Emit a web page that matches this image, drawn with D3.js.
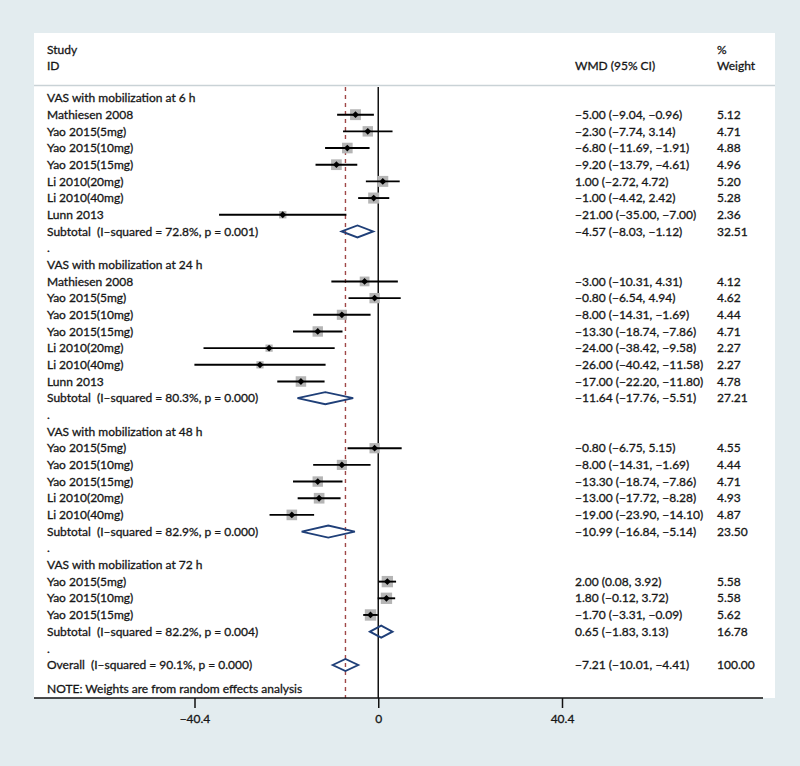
<!DOCTYPE html>
<html><head><meta charset="utf-8">
<script src="https://cdn.jsdelivr.net/npm/d3@7"></script>
<style>
html,body{margin:0;padding:0;background:#e3ecef;}
svg{display:block;}
text{font-family:Lato,"Open Sans",sans-serif;fill:#161616;white-space:pre;stroke:#161616;stroke-width:0.3px;}
</style></head>
<body>
<svg id="chart" width="800" height="766"></svg>
<script>
// ---- data ----
const rowLabels = [
  "VAS with mobilization at 6 h",
  "Mathiesen 2008","Yao 2015(5mg)","Yao 2015(10mg)","Yao 2015(15mg)","Li 2010(20mg)","Li 2010(40mg)","Lunn 2013",
  "Subtotal  (I–squared = 72.8%, p = 0.001)",
  ".",
  "VAS with mobilization at 24 h",
  "Mathiesen 2008","Yao 2015(5mg)","Yao 2015(10mg)","Yao 2015(15mg)","Li 2010(20mg)","Li 2010(40mg)","Lunn 2013",
  "Subtotal  (I–squared = 80.3%, p = 0.000)",
  ".",
  "VAS with mobilization at 48 h",
  "Yao 2015(5mg)","Yao 2015(10mg)","Yao 2015(15mg)","Li 2010(20mg)","Li 2010(40mg)",
  "Subtotal  (I–squared = 82.9%, p = 0.000)",
  ".",
  "VAS with mobilization at 72 h",
  "Yao 2015(5mg)","Yao 2015(10mg)","Yao 2015(15mg)",
  "Subtotal  (I–squared = 82.2%, p = 0.004)",
  ".",
  "Overall  (I–squared = 90.1%, p = 0.000)"
];
// h = group header, s = study, t = subtotal/overall, b = blank
const rowTypes = ["h","s","s","s","s","s","s","s","t","b",
                  "h","s","s","s","s","s","s","s","t","b",
                  "h","s","s","s","s","s","t","b",
                  "h","s","s","s","t","b","t"];
const estimates = [null,-5.00,-2.30,-6.80,-9.20,1.00,-1.00,-21.00,-4.57,null,
                   null,-3.00,-0.80,-8.00,-13.30,-24.00,-26.00,-17.00,-11.64,null,
                   null,-0.80,-8.00,-13.30,-13.00,-19.00,-10.99,null,
                   null,2.00,1.80,-1.70,0.65,null,-7.21];
const lowers = [null,-9.04,-7.74,-11.69,-13.79,-2.72,-4.42,-35.00,-8.03,null,
                null,-10.31,-6.54,-14.31,-18.74,-38.42,-40.42,-22.20,-17.76,null,
                null,-6.75,-14.31,-18.74,-17.72,-23.90,-16.84,null,
                null,0.08,-0.12,-3.31,-1.83,null,-10.01];
const uppers = [null,-0.96,3.14,-1.91,-4.61,4.72,2.42,-7.00,-1.12,null,
                null,4.31,4.94,-1.69,-7.86,-9.58,-11.58,-11.80,-5.51,null,
                null,5.15,-1.69,-7.86,-8.28,-14.10,-5.14,null,
                null,3.92,3.72,-0.09,3.13,null,-4.41];
const weights = [null,5.12,4.71,4.88,4.96,5.20,5.28,2.36,32.51,null,
                 null,4.12,4.62,4.44,4.71,2.27,2.27,4.78,27.21,null,
                 null,4.55,4.44,4.71,4.93,4.87,23.50,null,
                 null,5.58,5.58,5.62,16.78,null,100.00];
const tickValues = [-40.4, 0, 40.4];
const overallEstimate = -7.21;
const noteText = "NOTE: Weights are from random effects analysis";

// ---- layout ----
const svg = d3.select("#chart");
const panel = {x0:34, x1:775, y0:33, y1:698};
const x = d3.scaleLinear().domain([-40.4, 40.4]).range([194.5, 562]);
const y = d3.scaleLinear().domain([0, rowLabels.length-1]).range([98, 665]);
const labelX = 47, ciX = 575, wX = 717, fs = 12;

const fmt = v => d3.format(".2f")(v).replace("-", "–");

// panel
svg.append("rect").attr("x",panel.x0).attr("y",panel.y0)
  .attr("width",panel.x1-panel.x0).attr("height",panel.y1-panel.y0)
  .attr("fill","#ffffff");

// header
const hdr = svg.append("g").attr("font-size",fs);
hdr.append("text").attr("x",labelX).attr("y",54).text("Study");
hdr.append("text").attr("x",labelX).attr("y",70).text("ID");
hdr.append("text").attr("x",ciX).attr("y",70).text("WMD (95% CI)");
hdr.append("text").attr("x",wX).attr("y",54).text("%");
hdr.append("text").attr("x",wX).attr("y",70).text("Weight");
svg.append("line").attr("x1",panel.x0).attr("x2",panel.x1).attr("y1",85.5).attr("y2",85.5)
  .attr("stroke","#c9d2d6").attr("stroke-width",1.5);

// reference lines
svg.append("line").attr("x1",x(0)).attr("x2",x(0)).attr("y1",87).attr("y2",panel.y1)
  .attr("stroke","#111").attr("stroke-width",1.5);
svg.append("line").attr("x1",x(overallEstimate)).attr("x2",x(overallEstimate)).attr("y1",87).attr("y2",panel.y1)
  .attr("stroke","#a04848").attr("stroke-width",1.4).attr("stroke-dasharray","4,4");

const rows = rowLabels.map((l,i)=>({i,label:l,type:rowTypes[i],est:estimates[i],lo:lowers[i],hi:uppers[i],w:weights[i]}));

// labels
svg.append("g").attr("font-size",fs).selectAll("text").data(rows).join("text")
  .attr("x",labelX).attr("y",d=>y(d.i)).attr("dy","0.35em").text(d=>d.label);

// CI text & weights
const num = rows.filter(d=>d.est!==null);
svg.append("g").attr("font-size",fs).selectAll("text").data(num).join("text")
  .attr("x",ciX).attr("y",d=>y(d.i)).attr("dy","0.35em")
  .text(d=>`${fmt(d.est)} (${fmt(d.lo)}, ${fmt(d.hi)})`);
svg.append("g").attr("font-size",fs).selectAll("text").data(num).join("text")
  .attr("x",wX).attr("y",d=>y(d.i)).attr("dy","0.35em").text(d=>d3.format(".2f")(d.w));

// studies
const studies = rows.filter(d=>d.type==="s");
const g = svg.append("g");
g.selectAll("rect.box").data(studies).join("rect").attr("class","box")
  .attr("x",d=>x(d.est)-2.4*Math.sqrt(d.w)).attr("y",d=>y(d.i)-2.4*Math.sqrt(d.w))
  .attr("width",d=>4.8*Math.sqrt(d.w)).attr("height",d=>4.8*Math.sqrt(d.w))
  .attr("fill","#b5b5b5");
g.selectAll("line.ci").data(studies).join("line").attr("class","ci")
  .attr("x1",d=>x(d.lo)).attr("x2",d=>x(d.hi)).attr("y1",d=>y(d.i)).attr("y2",d=>y(d.i))
  .attr("stroke","#000").attr("stroke-width",1.9);
g.selectAll("path.pt").data(studies).join("path").attr("class","pt")
  .attr("d",d=>{const cx=x(d.est), cy=y(d.i), r=3.4; return `M${cx-r},${cy}L${cx},${cy-r}L${cx+r},${cy}L${cx},${cy+r}Z`;})
  .attr("fill","#000");

// subtotal diamonds
const subs = rows.filter(d=>d.type==="t");
g.selectAll("path.dia").data(subs).join("path").attr("class","dia")
  .attr("d",d=>{const cy=y(d.i), h=6; return `M${x(d.lo)},${cy}L${x(d.est)},${cy-h}L${x(d.hi)},${cy}L${x(d.est)},${cy+h}Z`;})
  .attr("fill","none").attr("stroke","#1f3f78").attr("stroke-width",1.9);

// note
svg.append("text").attr("font-size",fs).attr("x",labelX).attr("y",689).attr("dy","0.35em").text(noteText);

// axis
svg.append("line").attr("x1",34).attr("x2",763).attr("y1",panel.y1).attr("y2",panel.y1)
  .attr("stroke","#111").attr("stroke-width",1.5);
const ax = svg.append("g").attr("transform",`translate(0,${panel.y1})`)
  .call(d3.axisBottom(x).tickValues(tickValues).tickSize(10).tickPadding(6)
        .tickFormat(d=>d===0?"0":d3.format(".1f")(d).replace("-","–")));
ax.select(".domain").remove();
ax.selectAll(".tick line").attr("stroke","#111").attr("stroke-width",1.5);
ax.selectAll(".tick text").attr("font-size",fs).attr("font-family","Lato,'Open Sans',sans-serif")
  .attr("fill","#161616").attr("stroke","#161616").attr("stroke-width",0.3);
</script>
</body></html>
